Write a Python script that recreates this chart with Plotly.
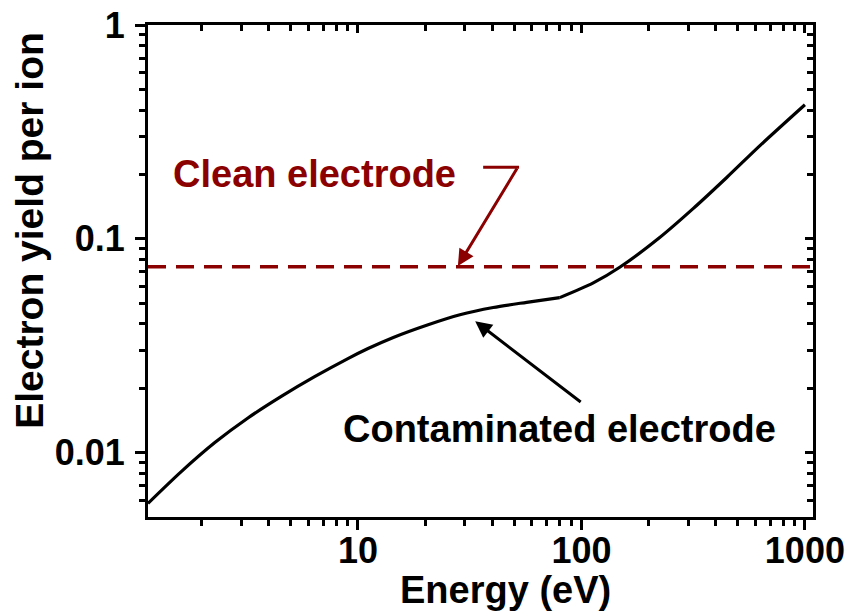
import math
import plotly.graph_objects as go

# Electron yield per ion vs. ion energy (contaminated electrode), two smooth
# segments meeting at the knee near 80 eV
energy_low = [1.15, 1.62, 2.29, 3.22, 4.54, 6.4, 9.02, 11.1, 14.4, 20.3, 28.6,
              40.3, 56.9, 80.0]
yield_low = [0.00579, 0.00815, 0.01114, 0.01452, 0.01832, 0.02265, 0.02754,
             0.03069, 0.03459, 0.03945, 0.04416, 0.04775, 0.05047, 0.05309]
energy_high = [80.0, 113, 149, 224, 316, 447, 631, 1000]
yield_high = [0.05309, 0.0622, 0.0738, 0.1014, 0.1384, 0.1936, 0.2735, 0.4236]
yield_clean = 0.074

energy_range = [1.15, 1087]
yield_range = [0.005, 1.0]

x_major = [10, 100, 1000]
x_major_text = ["10", "100", "1000"]
x_minor = [2, 3, 4, 5, 6, 7, 8, 9, 20, 30, 40, 50, 60, 70, 80, 90,
           200, 300, 400, 500, 600, 700, 800, 900]
y_major = [0.01, 0.1, 1]
y_major_text = ["0.01", "0.1", "1"]
y_minor = [0.006, 0.007, 0.008, 0.009, 0.02, 0.03, 0.04, 0.05, 0.06, 0.07,
           0.08, 0.09, 0.2, 0.3, 0.4, 0.5, 0.6, 0.7, 0.8, 0.9]

FONT = "Arial, Liberation Sans, sans-serif"
RED = "#8b0000"
log_x = [math.log10(v) for v in energy_range]
log_y = [math.log10(v) for v in yield_range]

fig = go.Figure()
fig.add_trace(go.Scatter(
    x=energy_range, y=[yield_clean, yield_clean], mode="lines",
    line=dict(color=RED, width=3.5, dash="18px,10px"),
    hoverinfo="skip", showlegend=False))
for xs, ys in ((energy_low, yield_low), (energy_high, yield_high)):
    fig.add_trace(go.Scatter(
        x=xs, y=ys, mode="lines",
        line=dict(color="black", width=3.2, shape="spline", smoothing=0.8),
        showlegend=False))
# empty trace so the tick-only top/right axes are rendered
fig.add_trace(go.Scatter(x=[None], y=[None], xaxis="x2", yaxis="y2",
                         showlegend=False, hoverinfo="skip"))

tickfont = dict(family=FONT, size=36, color="black", weight="bold")

common_x = dict(type="log", range=log_x, tickmode="array", tickvals=x_major,
                showgrid=False, zeroline=False, automargin=False)
common_y = dict(type="log", range=log_y, tickmode="array", tickvals=y_major,
                showgrid=False, zeroline=False, automargin=False)

fig.update_layout(
    width=848, height=613,
    margin=dict(l=148, r=35, t=25, b=96),
    paper_bgcolor="white", plot_bgcolor="white",
    xaxis=dict(**common_x, ticktext=x_major_text, ticks="outside", ticklen=10,
               tickwidth=2.5, tickcolor="black", showline=True, linewidth=3,
               linecolor="black", mirror=True, tickfont=tickfont,
               ticklabelstandoff=-10,
               minor=dict(tickmode="array", tickvals=x_minor, ticks="outside",
                          ticklen=6, tickwidth=2.5, tickcolor="black")),
    yaxis=dict(**common_y, ticktext=y_major_text, ticks="outside", ticklen=10,
               tickwidth=2.5, tickcolor="black", showline=True, linewidth=3,
               linecolor="black", mirror=True, tickfont=tickfont,
               ticklabelstandoff=3,
               minor=dict(tickmode="array", tickvals=y_minor, ticks="outside",
                          ticklen=6, tickwidth=2.5, tickcolor="black")),
    xaxis2=dict(**common_x, overlaying="x", side="top", anchor="y2",
                ticks="inside", ticklen=8, tickwidth=2.5, tickcolor="black",
                showticklabels=False, showline=False,
                minor=dict(tickmode="array", tickvals=x_minor, ticks="inside",
                           ticklen=6, tickwidth=2.5, tickcolor="black")),
    yaxis2=dict(**common_y, overlaying="y", side="right", anchor="x2",
                ticks="inside", ticklen=8, tickwidth=2.5, tickcolor="black",
                showticklabels=False, showline=False,
                minor=dict(tickmode="array", tickvals=y_minor, ticks="inside",
                           ticklen=6, tickwidth=2.5, tickcolor="black")),
)

label_font = dict(family=FONT, size=38, weight="bold")

fig.add_annotation(text="Energy (eV)", xref="paper", yref="paper",
                   x=0.538, y=-0.149, showarrow=False,
                   font=dict(family=FONT, size=38, color="black", weight="bold"),
                   xanchor="center", yanchor="middle")
fig.add_annotation(text="Electron yield per ion", xref="paper", yref="paper",
                   x=-0.178, y=0.583, textangle=-90, showarrow=False,
                   font=dict(family=FONT, size=39, color="black", weight="bold"),
                   xanchor="center", yanchor="middle")

fig.add_annotation(text="Clean electrode", xref="paper", yref="paper",
                   x=0.25, y=0.697, showarrow=False,
                   font=dict(**label_font, color=RED),
                   xanchor="center", yanchor="middle")
fig.add_annotation(text="", xref="paper", yref="paper", x=0.466, y=0.51,
                   ax=60, ay=-99, showarrow=True, arrowhead=2, arrowsize=1.1,
                   arrowwidth=3, arrowcolor=RED)
fig.add_shape(type="line", xref="paper", yref="paper",
              x0=0.504, x1=0.558, y0=0.711, y1=0.711,
              line=dict(color=RED, width=3))

fig.add_annotation(text="Contaminated electrode", xref="paper", yref="paper",
                   x=0.6195, y=0.179, showarrow=False,
                   font=dict(**label_font, color="black"),
                   xanchor="center", yanchor="middle")
fig.add_annotation(text="", xref="paper", yref="paper", x=0.492, y=0.398,
                   ax=107, ay=82, showarrow=True, arrowhead=2, arrowsize=1.1,
                   arrowwidth=3, arrowcolor="black")

fig.write_html("out.html")
